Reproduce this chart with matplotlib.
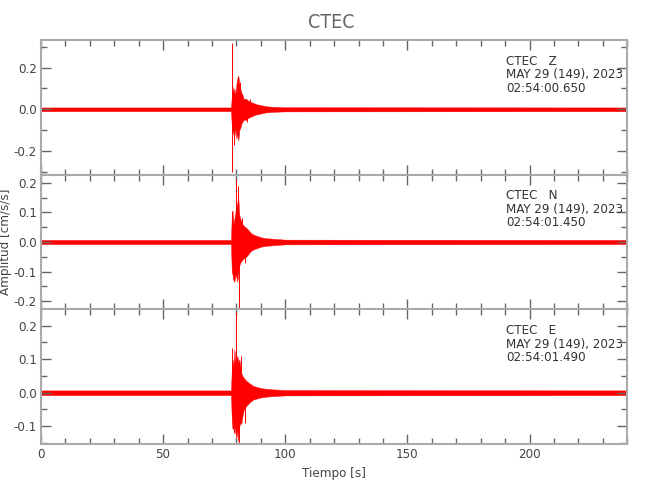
import matplotlib
matplotlib.use('Agg')
import matplotlib.pyplot as plt
from matplotlib.ticker import MultipleLocator

plt.rcParams['font.family'] = ['DejaVu Sans']
plt.rcParams['font.stretch'] = 'condensed'
plt.rcParams['axes.unicode_minus'] = False

# envelope knots (s) shared by the three components
t_env = [0, 77.8, 78.1, 78.4, 78.8, 79.2, 79.6, 80.0, 80.4, 80.8, 81.2, 81.6,
         82.0, 82.5, 83, 84, 85, 86, 87, 88, 90, 92, 95, 100, 240]

hi_z = [.009, .009, .06, .11, .08, .10, .07, .12, .15, .16, .12, .10,
        .08, .07, .05, .05, .04, .035, .03, .025, .02, .015, .012, .010, .009]
lo_z = [-.009, -.009, -.08, -.12, -.10, -.13, -.09, -.14, -.12, -.15, -.10, -.09,
        -.07, -.06, -.05, -.05, -.04, -.035, -.03, -.025, -.02, -.015, -.012, -.010, -.009]
spike_t_z = [78.1, 78.1, 80.5, 79.0, 81.4, 84.5, 85.5]
spike_v_z = [0.32, -0.30, 0.158, -0.17, 0.13, -0.06, 0.05]

hi_n = [.007, .007, .09, .107, .06, .08, .10, .14, .12, .15, .09, .08,
        .07, .06, .055, .048, .04, .03, .025, .022, .016, .013, .011, .008, .007]
lo_n = [-.007, -.007, -.10, -.11, -.13, -.135, -.11, -.12, -.135, -.10, -.08, -.07,
        -.065, -.06, -.055, -.05, -.04, -.03, -.025, -.022, -.016, -.013, -.011, -.008, -.007]
spike_t_n = [79.9, 80.7, 80.9, 78.3, 78.6, 82.3, 83.6]
spike_v_n = [0.215, 0.19, -0.222, 0.106, -0.107, 0.08, -0.07]

hi_e = [.007, .007, .07, .10, .08, .13, .09, .10, .11, .09, .10, .08,
        .06, .05, .045, .036, .03, .025, .02, .018, .014, .012, .010, .008, .007]
lo_e = [-.007, -.007, -.08, -.108, -.09, -.10, -.12, -.138, -.11, -.145, -.10, -.09,
        -.093, -.07, -.05, -.04, -.032, -.025, -.02, -.018, -.014, -.012, -.010, -.008, -.007]
spike_t_e = [79.8, 79.0, 80.9, 78.3, 78.6, 82.0, 83.4]
spike_v_e = [0.24, -0.12, -0.15, 0.135, -0.108, 0.11, -0.09]

labels = ['CTEC   Z', 'CTEC   N', 'CTEC   E']
times = ['02:54:00.650', '02:54:01.450', '02:54:01.490']
date = 'MAY 29 (149), 2023'

ylims = [(-0.313, 0.332), (-0.228, 0.228), (-0.153, 0.249)]
ymajor = [0.2, 0.1, 0.1]
yminor = [0.1, 0.05, 0.05]

traces = [(hi_z, lo_z, spike_t_z, spike_v_z),
          (hi_n, lo_n, spike_t_n, spike_v_n),
          (hi_e, lo_e, spike_t_e, spike_v_e)]

grey = '#aaaaaa'
txt = '#444444'

fig = plt.figure(figsize=(6.5, 5), dpi=100)
left, right = 0.063, 0.965
top, bottom = 0.92, 0.112
h = (top - bottom) / 3

axes = []
for i in range(3):
    ax = fig.add_axes([left, top - (i + 1) * h, right - left, h])
    axes.append(ax)
    hi, lo, st, sv = traces[i]
    ax.fill_between(t_env, lo, hi, color='red', linewidth=0.3)
    ax.vlines(st, 0, sv, color='red', linewidth=0.7)
    ax.set_xlim(0, 240)
    ax.set_ylim(*ylims[i])
    ax.xaxis.set_major_locator(MultipleLocator(50))
    ax.xaxis.set_minor_locator(MultipleLocator(10))
    ax.yaxis.set_major_locator(MultipleLocator(ymajor[i]))
    ax.yaxis.set_minor_locator(MultipleLocator(yminor[i]))
    ax.tick_params(which='both', direction='in', top=True, right=True,
                   color='#666666', labelcolor=txt, labelsize=9.5, pad=3)
    ax.tick_params(which='major', length=7, width=1)
    ax.tick_params(which='minor', length=4, width=1)
    for s in ax.spines.values():
        s.set_color(grey)
        s.set_linewidth(1.5)
    if i < 2:
        ax.tick_params(labelbottom=False)
    ax.text(0.793, 0.89, labels[i] + '\n' + date + '\n' + times[i],
            transform=ax.transAxes, ha='left', va='top', fontsize=9.5,
            color='#333333', linespacing=1.05)

axes[2].set_xlabel('Tiempo [s]', color=txt, fontsize=9.5, labelpad=4)
axes[1].set_ylabel('Amplitud [cm/s/s]', color=txt, fontsize=9.5)
axes[1].yaxis.set_label_coords(-0.05, 0.5)
fig.text(0.51, 0.955, 'CTEC', ha='center', va='center', fontsize=14, color='#666666')

fig.savefig('out.png', dpi=100)
